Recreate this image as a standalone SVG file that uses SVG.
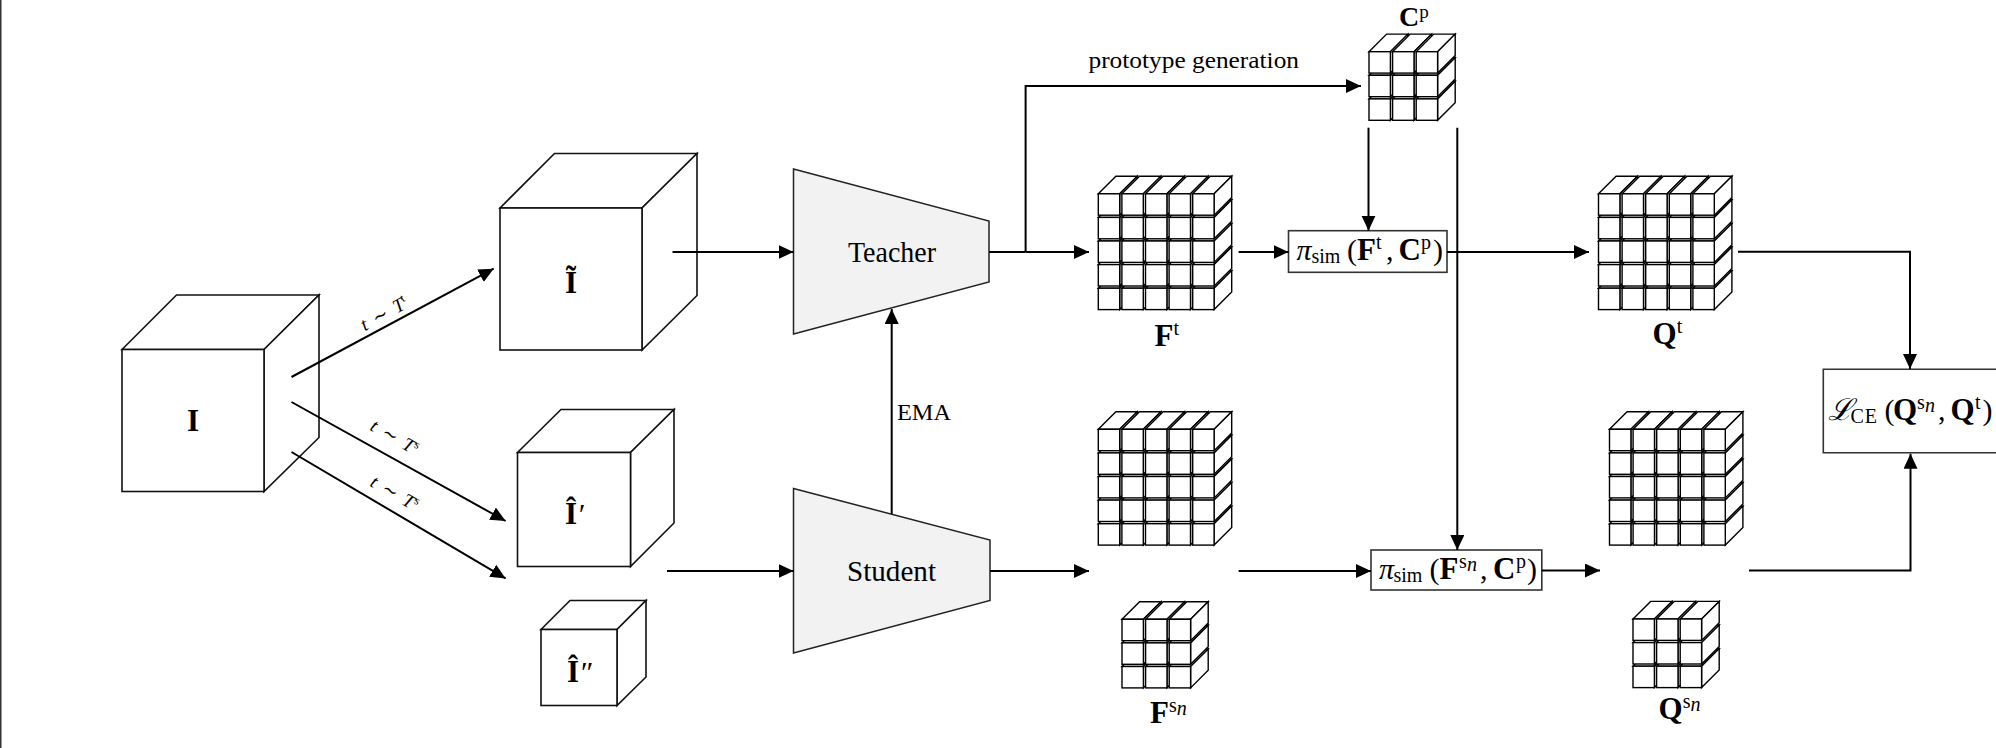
<svg xmlns="http://www.w3.org/2000/svg" width="1996" height="748" viewBox="0 0 1996 748">
<style>
text{font-family:"Liberation Serif","DejaVu Serif",serif;fill:#000}
.b{font-weight:700;font-size:31px}
.m{font-size:30px}
.s{font-size:20px}
.sb{font-weight:400;font-size:20px}
.pr{font-weight:400;font-size:30px}
.i{font-style:italic}
.big{fill:#fff;stroke:#111;stroke-width:1.6;stroke-linejoin:miter}
.net{fill:#f2f2f2;stroke:#222;stroke-width:1.5}
.box{fill:#fff;stroke:#333;stroke-width:1.6}
.cell{fill:#fff;stroke:#000;stroke-width:1.4;stroke-linejoin:miter}
.con{fill:none;stroke:#000;stroke-width:2}
.arr{marker-end:url(#ah)}
.t{font-size:19px;word-spacing:3px}
</style>
<defs>
<marker id="ah" markerUnits="userSpaceOnUse" markerWidth="16" markerHeight="15" refX="15" refY="7" orient="auto"><path d="M0 0L15 7L0 14Z" fill="#000"/></marker>
<g id="cube"><path class="cell" d="M0 0L17.6 -17.6H39L21.4 0Z"/><path class="cell" d="M21.4 0L39 -17.6V3.8L21.4 21.4Z"/><rect class="cell" width="21.4" height="21.4"/></g>
<g id="r3"><use href="#cube"/><use href="#cube" x="23.6"/><use href="#cube" x="47.2"/></g>
<g id="r5"><use href="#r3"/><use href="#cube" x="70.8"/><use href="#cube" x="94.4"/></g>
<g id="g3"><use href="#r3" y="47.2"/><use href="#r3" y="23.6"/><use href="#r3"/></g>
<g id="g5"><use href="#r5" y="94.4"/><use href="#r5" y="70.8"/><use href="#r5" y="47.2"/><use href="#r5" y="23.6"/><use href="#r5"/></g>
</defs>
<rect width="1996" height="748" fill="#fff"/>
<rect id="frame-edge" x="0" y="0" width="1.5" height="748" fill="#333"/>

<g id="node-I">
<path class="big" d="M122 349.5L176.5 295H319L264 349.5Z"/><path class="big" d="M264 349.5L319 295V437.5L264 491.5Z"/><rect class="big" x="122" y="349.5" width="142" height="142"/>
<text class="b" x="193" y="431" text-anchor="middle">I</text>
</g>
<g id="node-I-tilde">
<path class="big" d="M500 208L554.5 153.500H697L642 208Z"/><path class="big" d="M642 208L697 153.500V295.500L642 350Z"/><rect class="big" x="500" y="208" width="142" height="142"/>
<text class="b" x="571" y="293" text-anchor="middle">Ĩ</text>
</g>
<g id="node-I-hat-1">
<path class="big" d="M517.500 452.500L561 409.500H674L630.500 452.500Z"/><path class="big" d="M630.500 452.500L674 409.500V523L630.500 566.500Z"/><rect class="big" x="517.500" y="452.500" width="113" height="114"/>
<text class="b" x="565" y="524">Î<tspan class="pr i">′</tspan></text>
</g>
<g id="node-I-hat-2">
<path class="big" d="M541 629.500L570 600.500H646L617 629.500Z"/><path class="big" d="M617 629.500L646 600.500V677L617 705.500Z"/><rect class="big" x="541" y="629.500" width="76" height="76"/>
<text class="b" x="567" y="681.500">Î<tspan class="pr i">″</tspan></text>
</g>

<g id="node-teacher">
<path class="net" d="M793.500 169L989 221V282L793.500 334Z"/>
<text x="848" y="261.500" font-size="29" textLength="88" lengthAdjust="spacingAndGlyphs">Teacher</text>
</g>
<g id="node-student">
<path class="net" d="M793.500 488.500L990 540V600.500L793.500 653Z"/>
<text x="847" y="580.500" font-size="29" textLength="89" lengthAdjust="spacingAndGlyphs">Student</text>
</g>

<g id="node-Cp"><use href="#g3" x="1369" y="51.700"/>
<text class="b" style="font-size:28px" x="1399" y="26">C<tspan class="sb" style="font-size:19px" dy="-8">p</tspan></text></g>
<g id="node-Ft"><use href="#g5" x="1098.300" y="193.800"/>
<text class="b" x="1154.500" y="346">F<tspan class="sb" dy="-11">t</tspan></text></g>
<g id="node-Fs"><use href="#g5" x="1098.300" y="429.300"/></g>
<g id="node-Fsn"><use href="#g3" x="1122" y="619.300"/>
<text class="b" x="1150" y="722.500">F<tspan class="sb" dy="-11">s</tspan><tspan class="i sb" dy="3">n</tspan></text></g>
<g id="node-Qt"><use href="#g5" x="1598.500" y="193.800"/>
<text class="b" x="1652.500" y="344">Q<tspan class="sb" dy="-11">t</tspan></text></g>
<g id="node-Qs"><use href="#g5" x="1609.500" y="429.300"/></g>
<g id="node-Qsn"><use href="#g3" x="1633" y="619"/>
<text class="b" x="1658.500" y="719">Q<tspan class="sb" dy="-11">s</tspan><tspan class="i sb" dy="3">n</tspan></text></g>

<g id="node-sim-t">
<rect class="box" x="1288.500" y="230.700" width="158.500" height="41.600"/>
<text y="260"><tspan class="m i" x="1296.500">π</tspan><tspan class="s" x="1311.500" y="263">sim</tspan><tspan class="m" x="1347" y="260">(</tspan><tspan class="b" x="1357">F</tspan><tspan class="sb" x="1376" y="249">t</tspan><tspan class="m" x="1386" y="260">,</tspan><tspan class="b" x="1398.500">C</tspan><tspan class="sb" x="1421" y="249">p</tspan><tspan class="m" x="1433" y="260">)</tspan></text>
</g>
<g id="node-sim-s">
<rect class="box" x="1371" y="550" width="170.800" height="40"/>
<text y="578.500"><tspan class="m i" x="1379">π</tspan><tspan class="s" x="1393.500" y="581.500">sim</tspan><tspan class="m" x="1429.500" y="578.500">(</tspan><tspan class="b" x="1439.500">F</tspan><tspan class="sb" x="1459" y="567.500">s</tspan><tspan class="sb i" x="1467" y="570.500">n</tspan><tspan class="m" x="1480" y="578.500">,</tspan><tspan class="b" x="1493">C</tspan><tspan class="sb" x="1516" y="567.500">p</tspan><tspan class="m" x="1527" y="578.500">)</tspan></text>
</g>
<g id="node-loss">
<path class="box" d="M1996 369.300H1823.300V452.700H1996"/>
<text y="420"><tspan class="m i" x="1828">ℒ</tspan><tspan class="s" x="1850.500" y="423" textLength="26.500">CE</tspan><tspan class="m" x="1884.500" y="420">(</tspan><tspan class="b" x="1893">Q</tspan><tspan class="sb" x="1917" y="409">s</tspan><tspan class="sb i" x="1925" y="412">n</tspan><tspan class="m" x="1938" y="420">,</tspan><tspan class="b" x="1950.500">Q</tspan><tspan class="sb" x="1975" y="409">t</tspan><tspan class="m" x="1982.500" y="420">)</tspan></text>
</g>

<g id="connectors">
<path class="con arr" d="M291.500 377L493.700 268.700"/>
<path class="con arr" d="M291.500 402L505.600 521"/>
<path class="con arr" d="M291.500 452L505.600 578.400"/>
<path class="con arr" d="M672.500 252H793.500"/>
<path class="con arr" d="M667 571H793.500"/>
<path class="con" d="M989 252H1025.600"/>
<path class="con arr" d="M1025.600 252H1089"/>
<path class="con arr" d="M1025.600 252V86H1361"/>
<path class="con arr" d="M891.700 514V309"/>
<path class="con arr" d="M990 571H1089"/>
<path class="con arr" d="M1238.600 252H1288.500"/>
<path class="con arr" d="M1238.600 571H1371"/>
<path class="con arr" d="M1368.500 127.700V230.700"/>
<path class="con arr" d="M1457.300 127.700V550"/>
<path class="con arr" d="M1447 252H1589"/>
<path class="con arr" d="M1541.800 570.500H1600"/>
<path class="con arr" d="M1738 251.700H1910V369"/>
<path class="con arr" d="M1749 570.500H1910.500V453.700"/>
</g>

<g id="labels">
<text x="1088.500" y="67.500" font-size="23" textLength="210.500" lengthAdjust="spacingAndGlyphs">prototype generation</text>
<text x="897" y="420" font-size="23" textLength="54" lengthAdjust="spacingAndGlyphs">EMA</text>
<text class="t" transform="translate(387 319) rotate(-29)" text-anchor="middle"><tspan class="i">t</tspan> ∼ <tspan class="i">T</tspan><tspan font-size="12" dy="-7">t</tspan></text>
<text class="t" transform="translate(391.500 442.500) rotate(30)" text-anchor="middle"><tspan class="i">t</tspan> ∼ <tspan class="i">T</tspan><tspan font-size="12" dy="-7">s</tspan></text>
<text class="t" transform="translate(391.500 498.500) rotate(30)" text-anchor="middle"><tspan class="i">t</tspan> ∼ <tspan class="i">T</tspan><tspan font-size="12" dy="-7">s</tspan></text>
</g>
</svg>
